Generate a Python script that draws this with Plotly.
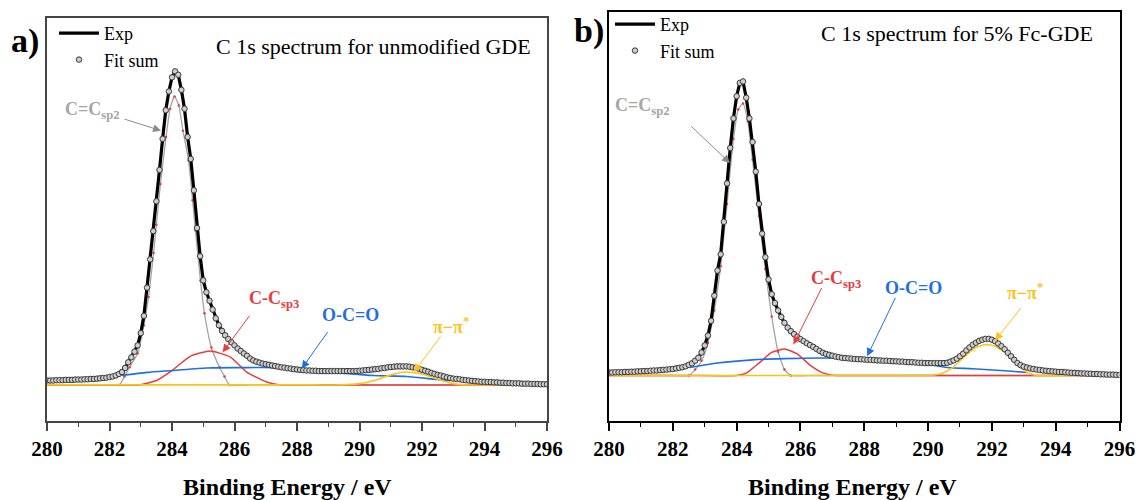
import plotly.graph_objects as go

# ---------------- data ----------------
# binding energy sampling of the measured trace (0.1 eV step, 280-296 eV)
energy = [round(280 + 0.1 * i, 1) for i in range(161)]

# panel a) unmodified GDE, normalised intensity
exp_a = [
    0.014, 0.014, 0.014, 0.015, 0.015, 0.015, 0.016, 0.016, 0.016, 0.017,
    0.017, 0.017, 0.018, 0.018, 0.019, 0.019, 0.020, 0.021, 0.022, 0.023,
    0.025, 0.027, 0.030, 0.035, 0.041, 0.054, 0.072, 0.088, 0.106, 0.126,
    0.165, 0.220, 0.310, 0.400, 0.490, 0.585, 0.685, 0.784, 0.875, 0.935,
    0.980, 0.999, 0.988, 0.940, 0.880, 0.790, 0.720, 0.620, 0.500, 0.410,
    0.333, 0.295, 0.268, 0.240, 0.212, 0.190, 0.172, 0.158, 0.146, 0.136,
    0.126, 0.116, 0.108, 0.100, 0.093, 0.084, 0.078, 0.074, 0.071, 0.068,
    0.066, 0.064, 0.062, 0.060, 0.058, 0.056, 0.055, 0.053, 0.052, 0.050,
    0.049, 0.048, 0.047, 0.046, 0.046, 0.045, 0.045, 0.044, 0.044, 0.044,
    0.044, 0.044, 0.044, 0.044, 0.044, 0.044, 0.044, 0.044, 0.044, 0.044,
    0.045, 0.046, 0.047, 0.048, 0.049, 0.050, 0.051, 0.053, 0.054, 0.056,
    0.057, 0.058, 0.059, 0.059, 0.059, 0.059, 0.058, 0.056, 0.054, 0.051,
    0.048, 0.045, 0.042, 0.038, 0.035, 0.032, 0.030, 0.027, 0.024, 0.022,
    0.020, 0.019, 0.018, 0.016, 0.015, 0.014, 0.013, 0.012, 0.011, 0.010,
    0.010, 0.009, 0.009, 0.008, 0.008, 0.007, 0.007, 0.006, 0.006, 0.005,
    0.005, 0.005, 0.004, 0.004, 0.004, 0.003, 0.003, 0.003, 0.002, 0.002,
    0.002,
]
# fit envelope coincides with the measured trace at this resolution
fit_a = list(exp_a)

sp2_a_e = [280, 281, 282, 282.32, 282.48, 282.64, 282.9, 283.1, 283.25, 283.41, 283.5, 283.63,
           283.81, 283.94, 284.08, 284.22, 284.35, 284.53, 284.66, 284.75, 284.91, 285.04,
           285.26, 285.52, 285.68, 285.84, 286.5, 288, 292, 296]
sp2_a_i = [0, 0, 0, 0, 0.027, 0.056, 0.10, 0.19, 0.28, 0.42, 0.51, 0.64,
           0.79, 0.88, 0.919, 0.89, 0.81, 0.715, 0.588, 0.492, 0.333, 0.228,
           0.119, 0.056, 0.027, 0, 0, 0, 0, 0]
sp3_a_e = [280, 281, 282, 282.95, 283.5, 284.03, 284.58, 285.22, 285.86, 286.39, 287.03,
           287.46, 288.2, 290, 293, 296]
sp3_a_i = [0, 0, 0, 0, 0.014, 0.048, 0.091, 0.108, 0.089, 0.041, 0.009,
           0, 0, 0, 0, 0]
oco_a_e = [282.39, 283.2, 284.04, 285.11, 286.18, 287.24, 288.1, 289.2, 290.44, 291.51,
           292.58, 292.9]
oco_a_i = [0.030, 0.040, 0.046, 0.054, 0.055, 0.055, 0.048, 0.040, 0.030, 0.027,
           0.016, 0.014]
pi_a_e = [280, 283, 286, 288.6, 289.4, 290.0, 290.5, 291.0, 291.5, 292.0, 292.5, 293.0,
          293.3, 294, 295, 296]
pi_a_i = [0, 0, 0, 0, 0, 0.004, 0.015, 0.032, 0.041, 0.035, 0.018, 0.004,
          0, 0, 0, 0]

# panel b) 5% Fc-GDE, normalised intensity
exp_b = [
    0.010, 0.010, 0.011, 0.011, 0.011, 0.012, 0.012, 0.013, 0.013, 0.014,
    0.014, 0.015, 0.015, 0.016, 0.017, 0.017, 0.018, 0.019, 0.020, 0.021,
    0.022, 0.024, 0.026, 0.028, 0.031, 0.036, 0.041, 0.050, 0.060, 0.078,
    0.102, 0.135, 0.185, 0.270, 0.355, 0.410, 0.520, 0.650, 0.770, 0.870,
    0.945, 0.990, 0.995, 0.940, 0.870, 0.790, 0.690, 0.580, 0.480, 0.400,
    0.325, 0.275, 0.245, 0.220, 0.198, 0.178, 0.162, 0.150, 0.140, 0.131,
    0.123, 0.116, 0.109, 0.103, 0.097, 0.090, 0.083, 0.077, 0.073, 0.070,
    0.067, 0.064, 0.062, 0.060, 0.059, 0.058, 0.057, 0.056, 0.055, 0.055,
    0.054, 0.053, 0.053, 0.052, 0.051, 0.051, 0.050, 0.050, 0.049, 0.048,
    0.048, 0.047, 0.047, 0.046, 0.045, 0.045, 0.044, 0.043, 0.043, 0.042,
    0.042, 0.042, 0.042, 0.042, 0.042, 0.042, 0.043, 0.047, 0.051, 0.057,
    0.065, 0.074, 0.085, 0.095, 0.104, 0.111, 0.117, 0.121, 0.124, 0.124,
    0.121, 0.116, 0.108, 0.099, 0.089, 0.077, 0.065, 0.053, 0.042, 0.035,
    0.030, 0.027, 0.024, 0.022, 0.020, 0.019, 0.017, 0.016, 0.015, 0.014,
    0.013, 0.012, 0.012, 0.011, 0.010, 0.009, 0.009, 0.008, 0.007, 0.007,
    0.006, 0.006, 0.005, 0.005, 0.004, 0.004, 0.003, 0.003, 0.003, 0.002,
    0.002,
]
fit_b = list(exp_b)

sp2_b_e = [280, 281, 282, 282.5, 282.7, 282.9, 283.1, 283.3, 283.5, 283.7, 283.9, 284.05,
           284.2, 284.35, 284.5, 284.7, 284.9, 285.1, 285.3, 285.5, 285.7, 286.4, 288, 292, 296]
sp2_b_i = [0, 0, 0, 0, 0.02, 0.05, 0.11, 0.22, 0.37, 0.58, 0.80, 0.90,
           0.92, 0.86, 0.73, 0.54, 0.36, 0.20, 0.08, 0.02, 0, 0, 0, 0, 0]
sp3_b_e = [280, 281, 282.5, 284.0, 284.3, 284.7, 285.1, 285.5, 285.9, 286.3, 286.7, 287.1,
           287.8, 290, 293, 296]
sp3_b_i = [0, 0, 0, 0, 0.008, 0.042, 0.078, 0.090, 0.073, 0.035, 0.009, 0,
           0, 0, 0, 0]
oco_b_e = [282.55, 283.4, 284.5, 285.5, 286.6, 287.7, 288.7, 289.8, 290.6, 291.4, 292.4, 293.1]
oco_b_i = [0.027, 0.042, 0.053, 0.057, 0.059, 0.057, 0.051, 0.042, 0.027, 0.023, 0.016, 0.010]
pi_b_e = [280, 283, 286, 289.2, 290.0, 290.4, 290.75, 291.15, 291.5, 291.8, 292.1, 292.45,
          292.75, 293.05, 293.4, 294.1, 295, 296]
pi_b_i = [0, 0, 0, 0, 0, 0.006, 0.025, 0.065, 0.095, 0.105, 0.099, 0.075,
          0.042, 0.014, 0, 0, 0, 0]

x_ticks = [280, 282, 284, 286, 288, 290, 292, 294, 296]
titles = ["C 1s spectrum for unmodified GDE", "C 1s spectrum for 5% Fc-GDE"]
panel_labels = ["a)", "b)"]
x_title = "Binding Energy / eV"

# ---------------- style ----------------
SERIF = "Liberation Serif, Times New Roman, serif"
C_GREY = "rgb(165,165,165)"
C_RED = "rgb(236,58,58)"
C_BLUE = "rgb(30,112,226)"
C_YEL = "rgb(255,194,20)"
W, H = 1139, 500

fig = go.Figure()


def add_panel(sfx, legend, exp, fit, comps):
    xa, ya = "x" + sfx, "y" + sfx
    (sp2e, sp2i), (sp3e, sp3i), (ocoe, ocoi), (pie, pii) = comps
    fig.add_trace(go.Scatter(x=sp2e, y=sp2i, mode="lines", xaxis=xa, yaxis=ya,
                             line=dict(color=C_GREY, width=1.3, shape="spline", smoothing=0.5),
                             showlegend=False))
    fig.add_trace(go.Scatter(x=sp2e[3:-4], y=sp2i[3:-4], mode="markers", xaxis=xa, yaxis=ya,
                             marker=dict(color=C_RED, size=2.5), showlegend=False))
    fig.add_trace(go.Scatter(x=sp3e, y=sp3i, mode="lines", xaxis=xa, yaxis=ya,
                             line=dict(color=C_RED, width=1.5, shape="spline", smoothing=0.5),
                             showlegend=False))
    fig.add_trace(go.Scatter(x=ocoe, y=ocoi, mode="lines", xaxis=xa, yaxis=ya,
                             line=dict(color=C_BLUE, width=1.6, shape="spline", smoothing=0.6),
                             showlegend=False))
    fig.add_trace(go.Scatter(x=pie, y=pii, mode="lines", xaxis=xa, yaxis=ya,
                             line=dict(color=C_YEL, width=1.6, shape="spline", smoothing=0.5),
                             showlegend=False))
    fig.add_trace(go.Scatter(x=energy, y=exp, mode="lines", name="Exp", xaxis=xa, yaxis=ya,
                             line=dict(color="black", width=3.2), legend=legend))
    fig.add_trace(go.Scatter(x=energy, y=fit, mode="markers", name="Fit sum", xaxis=xa, yaxis=ya,
                             marker=dict(symbol="circle", size=5.5, color="rgb(205,205,205)",
                                         line=dict(color="rgb(55,55,55)", width=1)),
                             legend=legend))


add_panel("", "legend", exp_a, fit_a,
          [(sp2_a_e, sp2_a_i), (sp3_a_e, sp3_a_i), (oco_a_e, oco_a_i), (pi_a_e, pi_a_i)])
add_panel("2", "legend2", exp_b, fit_b,
          [(sp2_b_e, sp2_b_i), (sp3_b_e, sp3_b_i), (oco_b_e, oco_b_i), (pi_b_e, pi_b_i)])


def px(xp):
    return xp / W


def py(yp):
    return 1 - yp / H


def xaxis(domain, linecolor):
    return dict(domain=domain, range=[280, 296], tickvals=x_ticks,
                ticktext=["<b>%d</b>" % v for v in x_ticks], ticks="outside",
                ticklen=8, tickwidth=1.5, tickcolor=linecolor,
                minor=dict(dtick=1, tick0=280, ticks="outside", ticklen=4, tickwidth=1.2,
                           tickcolor=linecolor),
                showline=True, linecolor=linecolor, linewidth=1.5, mirror=True,
                showgrid=False, zeroline=False,
                tickfont=dict(family=SERIF, size=21, color="black"),
                automargin=False)


def yaxis(domain, rng, anchor, linecolor):
    return dict(domain=domain, range=rng, showticklabels=False, ticks="", showline=True,
                linecolor=linecolor, linewidth=1.5, mirror=True, showgrid=False,
                zeroline=False, anchor=anchor, automargin=False)


LC_A = "rgb(70,70,70)"
LC_B = "black"

fig.update_layout(
    width=W, height=H, margin=dict(l=0, r=0, t=0, b=0),
    paper_bgcolor="white", plot_bgcolor="white",
    xaxis=dict(xaxis([px(47), px(547)], LC_A), anchor="y"),
    yaxis=yaxis([py(421), py(18)], [-0.115, 1.169], "x", LC_A),
    xaxis2=dict(xaxis([px(609), px(1119.5)], LC_B), anchor="y2"),
    yaxis2=yaxis([py(421), py(12)], [-0.154, 1.230], "x2", LC_B),
    legend=dict(x=px(54), y=py(15), xanchor="left", yanchor="top", bgcolor="rgba(0,0,0,0)",
                font=dict(family=SERIF, size=18, color="black"), tracegroupgap=0,
                itemwidth=40),
    legend2=dict(x=px(610), y=py(6), xanchor="left", yanchor="top", bgcolor="rgba(0,0,0,0)",
                 font=dict(family=SERIF, size=18, color="black"), tracegroupgap=0,
                 itemwidth=40),
)

ann = []


def text(t, xp, yp, size, color="black", xanchor="center", bold=False):
    ann.append(dict(text=("<b>%s</b>" % t) if bold else t, x=px(xp), y=py(yp),
                    xref="paper", yref="paper", xanchor=xanchor, yanchor="middle",
                    showarrow=False, font=dict(family=SERIF, size=size, color=color)))


# panel titles, panel labels and x-axis titles
text(titles[0], 373, 47, 22)
text(titles[1], 957, 33, 22)
text(panel_labels[0], 25, 41, 34, bold=True)
text(panel_labels[1], 589, 31, 34, bold=True)
text(x_title, 287, 487, 24, bold=True)
text(x_title, 852, 487, 24, bold=True)


def arrow(xr, yr, x, y, ax, ay, color):
    ann.append(dict(text="", x=x, y=y, xref=xr, yref=yr, ax=ax, ay=ay, showarrow=True,
                    arrowhead=2, arrowsize=1.6, arrowwidth=1, arrowcolor=color))


# panel a) component labels
text("C=C<sub>sp2</sub>", 63, 111, 18, C_GREY, "left", True)
text("C-C<sub>sp3</sub>", 247, 299, 18, C_RED, "left", True)
text("O-C=O", 320, 315, 18, C_BLUE, "left", True)
text("π−π<sup>*</sup>", 431, 325, 18, C_YEL, "left", True)
arrow("x", "y", 283.65, 0.81, -38, -12, "rgb(140,140,140)")
arrow("x", "y", 285.62, 0.104, 28, -38, C_RED)
arrow("x", "y", 288.15, 0.052, 27, -38, C_BLUE)
arrow("x", "y", 291.74, 0.041, 28, -37, C_YEL)

# panel b) component labels
text("C=C<sub>sp2</sub>", 613, 107, 18, C_GREY, "left", True)
text("C-C<sub>sp3</sub>", 809, 279, 18, C_RED, "left", True)
text("O-C=O", 883, 288, 18, C_BLUE, "left", True)
text("π−π<sup>*</sup>", 1005, 291, 18, C_YEL, "left", True)
arrow("x2", "y2", 283.79, 0.719, -40, -38, "rgb(140,140,140)")
arrow("x2", "y2", 285.78, 0.105, 29, -58, C_RED)
arrow("x2", "y2", 288.09, 0.065, 29, -60, C_BLUE)
arrow("x2", "y2", 292.10, 0.118, 27, -34, C_YEL)

fig.update_layout(annotations=ann)
fig.write_html("out.html")
